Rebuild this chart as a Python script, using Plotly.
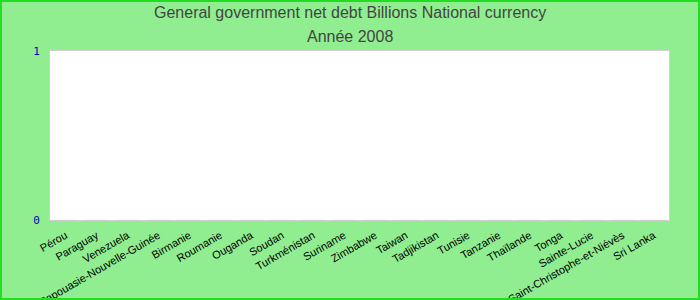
import plotly.graph_objects as go

categories = ["Pérou", "Paraguay", "Venezuela", "Papouasie-Nouvelle-Guinée", "Birmanie",
              "Roumanie", "Ouganda", "Soudan", "Turkménistan", "Suriname", "Zimbabwe",
              "Taiwan", "Tadjikistan", "Tunisie", "Tanzanie", "Thaïlande", "Tonga",
              "Sainte-Lucie", "Saint-Christophe-et-Niévès", "Sri Lanka"]
values = [0] * len(categories)
y_ticks = [0, 1]
title_lines = ["General government net debt Billions National currency", "Année 2008"]

W, H = 700, 300
ml, mr, mt, mb = 50, 31, 51, 80
pw, ph = W - ml - mr, H - mt - mb

fig = go.Figure(go.Bar(x=categories, y=values, marker_color="#4472c4"))

def py2paper(py):
    return (H - mb - py) / ph

def px2paper(px):
    return (px - ml) / pw

annotations = [
    dict(text=title_lines[0], x=px2paper(W / 2), xref="paper", y=py2paper(13), yref="paper",
         xanchor="center", yanchor="middle", showarrow=False,
         font=dict(family="Liberation Sans, Arial", size=16, color="#444444")),
    dict(text=title_lines[1], x=px2paper(W / 2), xref="paper", y=py2paper(36), yref="paper",
         xanchor="center", yanchor="middle", showarrow=False,
         font=dict(family="Liberation Sans, Arial", size=16, color="#444444")),
]

fig.update_layout(
    width=W, height=H,
    margin=dict(l=ml, r=mr, t=mt, b=mb, autoexpand=False),
    paper_bgcolor="#90EE90", plot_bgcolor="white",
    showlegend=False,
    annotations=annotations,
    xaxis=dict(type="category", tickangle=-30, showgrid=False, ticks="", automargin=False,
               tickfont=dict(family="Liberation Sans, Arial", size=11, color="black"),
               showline=True, linecolor="#d0d0d0", linewidth=1, mirror=True,
               ticklabelstandoff=4),
    yaxis=dict(range=[0, 1], tickvals=y_ticks, showgrid=False, zeroline=False, ticks="",
               automargin=False,
               tickfont=dict(family="DejaVu Sans Mono, monospace", size=11, color="#0000b0"),
               showline=True, linecolor="#d0d0d0", linewidth=1, mirror=True,
               ticklabelstandoff=7),
    shapes=[dict(type="rect", xref="paper", yref="paper",
                 x0=(-ml + 1) / pw, x1=(pw + mr - 1) / pw,
                 y0=(-mb + 1) / ph, y1=(ph + mt - 1) / ph,
                 line=dict(color="#22dd22", width=2), layer="above")],
)

fig.write_html("out.html")
